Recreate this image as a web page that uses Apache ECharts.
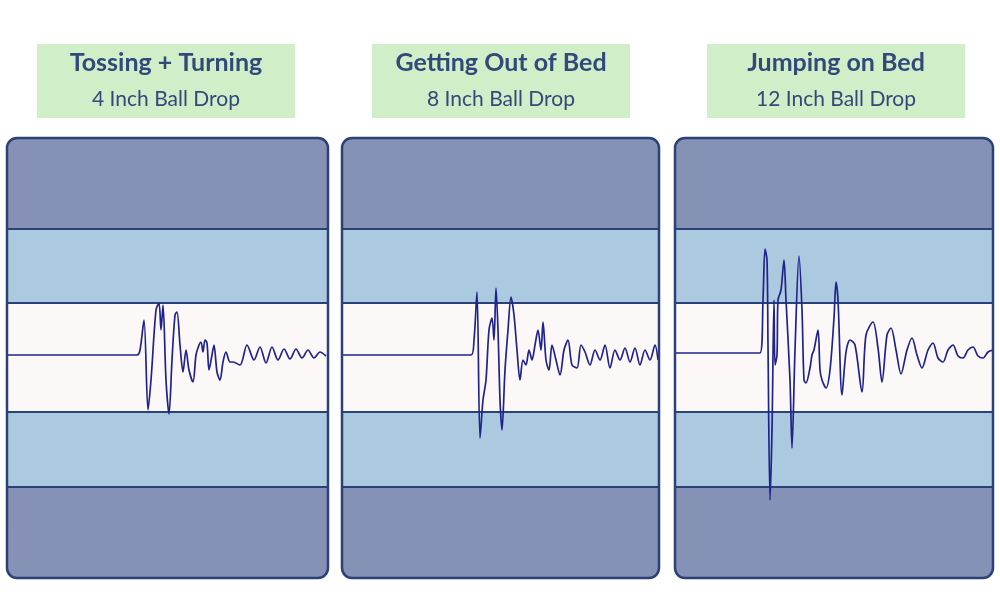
<!DOCTYPE html>
<html>
<head>
<meta charset="utf-8">
<script src="https://cdn.jsdelivr.net/npm/echarts@6/dist/echarts.min.js"></script>
<style>html,body{margin:0;background:#fff}#chart{width:1000px;height:607px}</style>
</head>
<body>
<div id="chart"></div>
<script>
// titles
var titles = ['Tossing + Turning', 'Getting Out of Bed', 'Jumping on Bed'];
var subtitles = ['4 Inch Ball Drop', '8 Inch Ball Drop', '12 Inch Ball Drop'];

// band edges (amplitude units, top to bottom)
var bandEdges = [126, 52, -57, -132];

// waveforms: [time, amplitude]
var tossing = [[0,0],[130,0],[133,5],[137,35],[141,-55],[144,-25],[149,45],[152,52],[154,25],[156,50],[159,-25],[162,-59],[165,-5],[168,40],[170,43],[173,10],[176,-17],[179,5],[182,-15],[186,-27],[189,0],[192,10],[194,13],[196,3],[198,15],[200,12],[202,-15],[205,0],[207,10],[210,-17],[213,-25],[216,-7],[219,3],[223,-7],[226,-7],[233,-10],[240,10],[247,-5],[253,8],[259,-8],[265,8],[271,-5],[277,6],[283,-4],[289,6],[295,-3],[301,5],[307,-3],[313,3],[319,-1]];
var gettingOut = [[0,0],[129,0],[132,15],[135,63],[138,-83],[141,-45],[144,-25],[147,25],[150,37],[152,15],[154,67],[156,25],[158,-45],[160,-75],[163,-15],[166,25],[169,58],[172,40],[175,5],[178,-25],[181,-5],[184,-10],[187,5],[190,-5],[193,10],[196,25],[199,5],[201,33],[204,-5],[207,-15],[210,10],[214,-5],[218,-20],[222,5],[226,15],[230,-10],[235,-13],[239,10],[243,3],[248,-10],[253,5],[258,-5],[263,10],[268,-13],[273,5],[278,-5],[283,7],[288,-7],[293,7],[298,-10],[303,5],[308,-5],[313,10],[316,-5]];
var jumping = [[0,2],[85,2],[88,55],[90,106],[92,95],[93,10],[95,-145],[97,-75],[99,55],[100,-10],[102,0],[103,55],[106,65],[109,95],[111,55],[115,-25],[117,-93],[120,5],[124,99],[127,45],[129,-25],[131,-28],[135,-13],[137,0],[139,5],[143,25],[145,-15],[147,-25],[151,-33],[155,-15],[159,37],[161,73],[163,55],[167,-40],[171,3],[175,15],[180,10],[187,-37],[191,20],[198,33],[203,7],[207,-27],[212,20],[216,27],[221,5],[226,-19],[232,5],[237,17],[242,0],[247,-13],[253,5],[258,12],[263,-3],[268,-7],[273,5],[278,10],[283,-1],[288,-3],[293,5],[298,8],[303,-1],[308,-3],[313,3],[318,5]];
var waves = [tossing, gettingOut, jumping];

var chart = echarts.init(document.getElementById('chart'));

var panels = [{left: 7, width: 321}, {left: 342, width: 317}, {left: 675, width: 318}];
var boxes = [{left: 37, width: 258}, {left: 372, width: 258}, {left: 707, width: 258}];
var top0 = 138, h = 440;

var grids = [], xAxes = [], yAxes = [], series = [], graphics = [];
panels.forEach(function (p, i) {
  grids.push({left: p.left, top: top0, width: p.width, height: h});
  xAxes.push({gridIndex: i, type: 'value', min: 0, max: p.width, show: false});
  yAxes.push({gridIndex: i, type: 'value', min: -223, max: 217, show: false});
  series.push({
    type: 'line', xAxisIndex: i, yAxisIndex: i, data: waves[i],
    smooth: 0.3, symbol: 'none', lineStyle: {color: '#1f238c', width: 1.7},
    z: 5,
    markArea: {
      silent: true,
      data: [
        [{yAxis: bandEdges[0], itemStyle: {color: '#abc9df'}}, {yAxis: bandEdges[1]}],
        [{yAxis: bandEdges[1], itemStyle: {color: '#fcf8f8'}}, {yAxis: bandEdges[2]}],
        [{yAxis: bandEdges[2], itemStyle: {color: '#abc9df'}}, {yAxis: bandEdges[3]}]
      ]
    },
    markLine: {
      silent: true, symbol: 'none', label: {show: false},
      lineStyle: {color: '#2c4177', width: 2, type: 'solid'},
      data: bandEdges.map(function (v) { return {yAxis: v}; })
    }
  });
  graphics.push({type: 'rect', z: -10, shape: {x: p.left, y: top0, width: p.width, height: h, r: 10},
    style: {fill: '#8591b5'}});
  graphics.push({type: 'rect', z: 100, shape: {x: p.left, y: top0, width: p.width, height: h, r: 10},
    style: {fill: null, stroke: '#2c4177', lineWidth: 2.5}});
  var b = boxes[i];
  graphics.push({type: 'rect', shape: {x: b.left, y: 44, width: b.width, height: 74},
    style: {fill: '#d0eec7'}});
  graphics.push({type: 'text', x: b.left + b.width / 2, y: 63,
    style: {text: titles[i], fill: '#33497a', font: 'bold 25px Lato', align: 'center', verticalAlign: 'middle'}});
  graphics.push({type: 'text', x: b.left + b.width / 2, y: 99,
    style: {text: subtitles[i], fill: '#33497a', font: '21px Lato', align: 'center', verticalAlign: 'middle'}});
});

chart.setOption({
  animation: false,
  grid: grids, xAxis: xAxes, yAxis: yAxes, series: series, graphic: graphics
});
</script>
</body>
</html>
